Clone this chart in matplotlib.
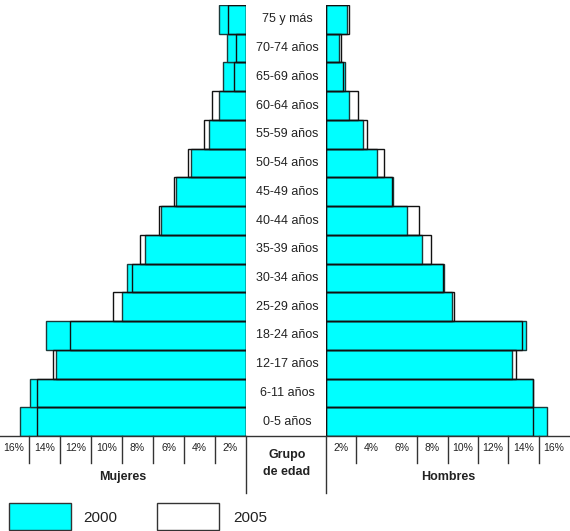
import matplotlib
matplotlib.use("Agg")
import matplotlib.pyplot as plt
from matplotlib.lines import Line2D
from matplotlib.patches import Rectangle
from matplotlib.transforms import blended_transform_factory as blend

# ---------------- data (bottom -> top) ----------------
groups = ["0-5 años", "6-11 años", "12-17 años", "18-24 años", "25-29 años",
          "30-34 años", "35-39 años", "40-44 años", "45-49 años", "50-54 años",
          "55-59 años", "60-64 años", "65-69 años", "70-74 años", "75 y más"]
mujeres_2000 = [14.58, 13.94, 12.26, 12.90, 8.00, 7.68, 6.52, 5.48, 4.52, 3.55,
                2.39, 1.74, 1.48, 1.23, 1.74]
mujeres_2005 = [13.48, 13.48, 12.45, 11.35, 8.58, 7.35, 6.84, 5.61, 4.65, 3.74,
                2.71, 2.19, 0.77, 0.65, 1.16]
hombres_2000 = [14.54, 13.62, 12.24, 13.16, 8.29, 7.76, 6.32, 5.33, 4.41, 3.36,
                2.43, 1.51, 1.25, 0.86, 1.38]
hombres_2005 = [13.62, 13.60, 12.50, 12.89, 8.42, 7.70, 6.91, 6.12, 4.34, 3.82,
                2.70, 2.11, 1.12, 0.99, 1.51]
tick_values = [2, 4, 6, 8, 10, 12, 14, 16]
tick_labels = ["2%", "4%", "6%", "8%", "10%", "12%", "14%", "16%"]
series_names = ["2000", "2005"]

CYAN = "#00FFFF"
NARROW = ["Liberation Sans Narrow", "Liberation Sans", "DejaVu Sans"]
REG = ["Liberation Sans", "DejaVu Sans"]

W, H = 570, 531
fig = plt.figure(figsize=(W / 100, H / 100), dpi=100)
fig.patch.set_facecolor("white")

def fx(px):
    return px / W

def fy(py):
    return (H - py) / H

top_px, bot_px = 5, 436
ax_l = fig.add_axes([fx(0), fy(bot_px), fx(246), (bot_px - top_px) / H])
ax_r = fig.add_axes([fx(326), fy(bot_px), fx(244), (bot_px - top_px) / H])
ax_l.set_xlim(246 / 15.5, 0)
ax_r.set_xlim(0, 244 / 15.2)

y = list(range(len(groups)))
for ax, v00, v05 in [(ax_l, mujeres_2000, mujeres_2005), (ax_r, hombres_2000, hombres_2005)]:
    ax.set_ylim(-0.5, len(groups) - 0.5)
    ax.barh(y, v00, height=1.0, color=CYAN, edgecolor="#1c3a3a", linewidth=1.0, zorder=2)
    ax.barh(y, v05, height=1.0, fill=False, edgecolor="#111111", linewidth=1.0, zorder=3)
    ax.axis("off")

# row labels in the centre column
tr_lab = blend(fig.transFigure, ax_l.transData)
for i, g in enumerate(groups):
    fig.text(fx(287), i, g, transform=tr_lab, ha="center", va="center",
             fontsize=9, family=NARROW, color="#222222")

# table grid under the plot
line_kw = dict(color="#333333", linewidth=1.0)
fig.add_artist(Line2D([0, 1], [fy(436), fy(436)], transform=fig.transFigure, **line_kw))
for ax in (ax_l, ax_r):
    tr = blend(ax.transData, fig.transFigure)
    # tall zero line
    ax.add_line(Line2D([0, 0], [fy(436), fy(493)], transform=tr, clip_on=False, **line_kw))
    for v in tick_values[:-1]:
        if ax is ax_r and v == 4:
            continue
        ax.add_line(Line2D([v, v], [fy(436), fy(463)], transform=tr, clip_on=False, **line_kw))
    for v, lab in zip(tick_values, tick_labels):
        ax.text(v - 1, fy(448), lab, transform=tr, ha="center", va="center",
                fontsize=7.5, family=NARROW, color="#222222")

fig.text(fx(123), fy(477), "Mujeres", ha="center", va="center", fontsize=9,
         fontweight="bold", family=NARROW, color="#222222")
fig.text(fx(448), fy(477), "Hombres", ha="center", va="center", fontsize=9,
         fontweight="bold", family=NARROW, color="#222222")
fig.text(fx(287), fy(455), "Grupo", ha="center", va="center", fontsize=9,
         fontweight="bold", family=NARROW, color="#222222")
fig.text(fx(287), fy(472), "de edad", ha="center", va="center", fontsize=9,
         fontweight="bold", family=NARROW, color="#222222")

# legend
fig.add_artist(Rectangle((fx(9), fy(530)), fx(62), 27 / H, transform=fig.transFigure,
                         facecolor=CYAN, edgecolor="#333333", linewidth=1.0))
fig.add_artist(Rectangle((fx(157), fy(530)), fx(62), 27 / H, transform=fig.transFigure,
                         facecolor="white", edgecolor="#333333", linewidth=1.0))
fig.text(fx(83), fy(518), series_names[0], ha="left", va="center", fontsize=11,
         family=REG, color="#222222")
fig.text(fx(233), fy(518), series_names[1], ha="left", va="center", fontsize=11,
         family=REG, color="#222222")

fig.savefig("out.png", dpi=100)
